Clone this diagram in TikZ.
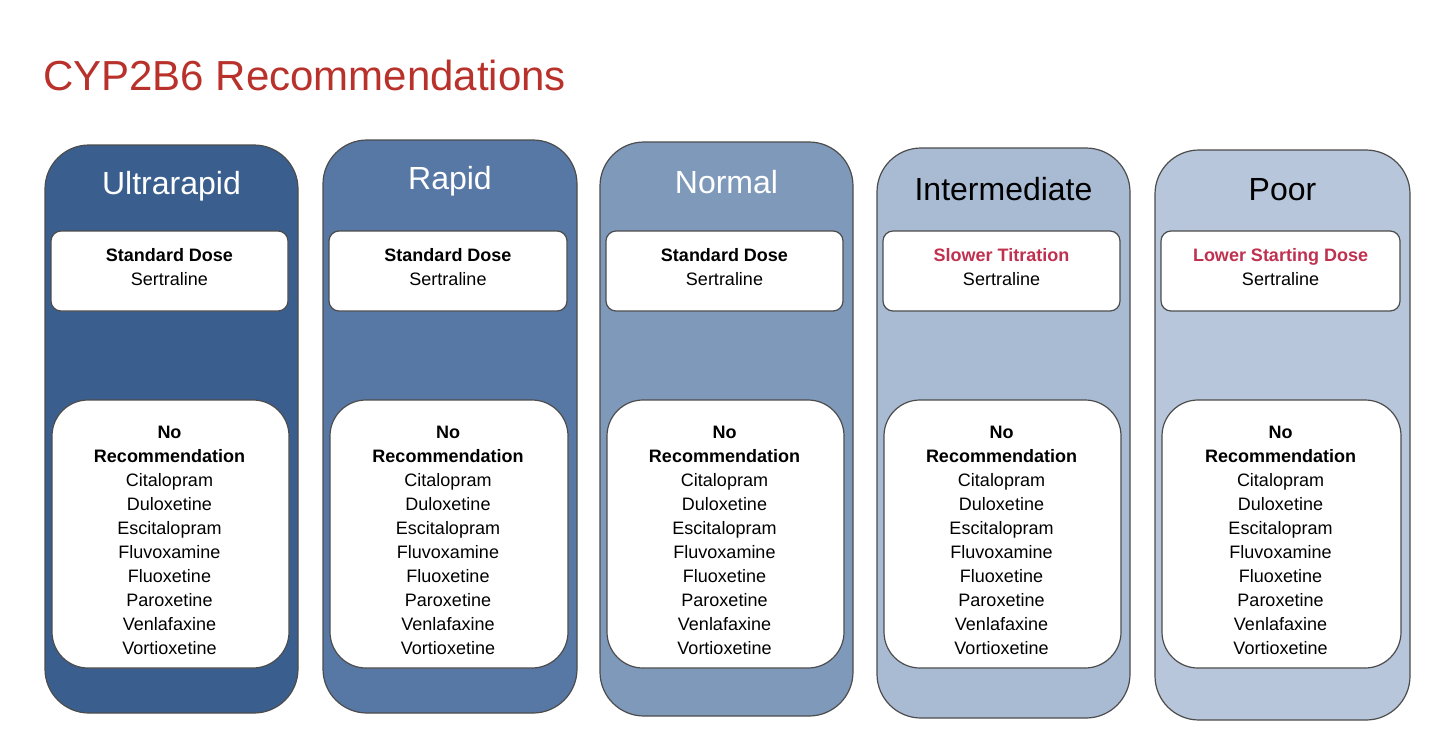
\documentclass[tikz,border=0pt]{standalone}
\usepackage{fontspec}
\setmainfont{Liberation Sans}
\definecolor{c1}{HTML}{3A5F8F}
\definecolor{c2}{HTML}{5778A4}
\definecolor{c3}{HTML}{7F99BB}
\definecolor{c4}{HTML}{A9BBD3}
\definecolor{c5}{HTML}{B7C6DA}
\definecolor{ttl}{HTML}{B8312A}
\definecolor{pk}{HTML}{C0304F}
\tikzset{
 col/.style={draw=black!70,line width=0.6pt,rounded corners=22pt},
 topbox/.style={draw=black!70,fill=white,line width=0.6pt,rounded corners=5pt},
 botbox/.style={draw=black!70,fill=white,line width=0.6pt,rounded corners=18pt},
 hdr/.style={font=\fontsize{16}{18}\selectfont},
 txt/.style={font=\fontsize{9}{12}\selectfont,align=center}
}
\newcommand{\druglist}{\textbf{No}\\\textbf{Recommendation}\\Citalopram\\Duloxetine\\Escitalopram\\Fluvoxamine\\Fluoxetine\\Paroxetine\\Venlafaxine\\Vortioxetine}
\begin{document}
\begin{tikzpicture}[x=0.5pt,y=-0.5pt]
\useasboundingbox (0,0) rectangle (1440,745);
\node[anchor=west,text=ttl,font=\fontsize{21}{24}\selectfont] (title) at (36,75) {CYP2B6 Recommendations};
\foreach \i/\xl/\xr/\yt/\yb/\c/\h/\hc/\ty/\tc/\hy in {
 1/45/298/145/713/c1/Ultrarapid/white/Standard Dose/black/186,
 2/323/577/140/713/c2/Rapid/white/Standard Dose/black/181,
 3/600/853/142/716/c3/Normal/white/Standard Dose/black/182,
 4/877/1130/148/718/c4/Intermediate/black/Slower Titration/pk/189,
 5/1155/1410/150/720/c5/Poor/black/Lower Starting Dose/pk/190}{
 \draw[col,fill=\c] (\xl,\yt) rectangle (\xr,\yb);
 \node[hdr,text=\hc] (h\i) at ({(\xl+\xr)/2},\hy) {\h};
 \draw[topbox] ({\xl+6},231) rectangle ({\xr-10},311);
 \node[txt] (t\i) at ({(\xl+\xr)/2-2},267) {\textbf{\textcolor{\tc}{\ty}}\\Sertraline};
 \draw[botbox] ({\xl+7},400) rectangle ({\xr-9},668);
 \node[txt] (b\i) at ({(\xl+\xr)/2-2},540) {\druglist};
}
\end{tikzpicture}
\end{document}
